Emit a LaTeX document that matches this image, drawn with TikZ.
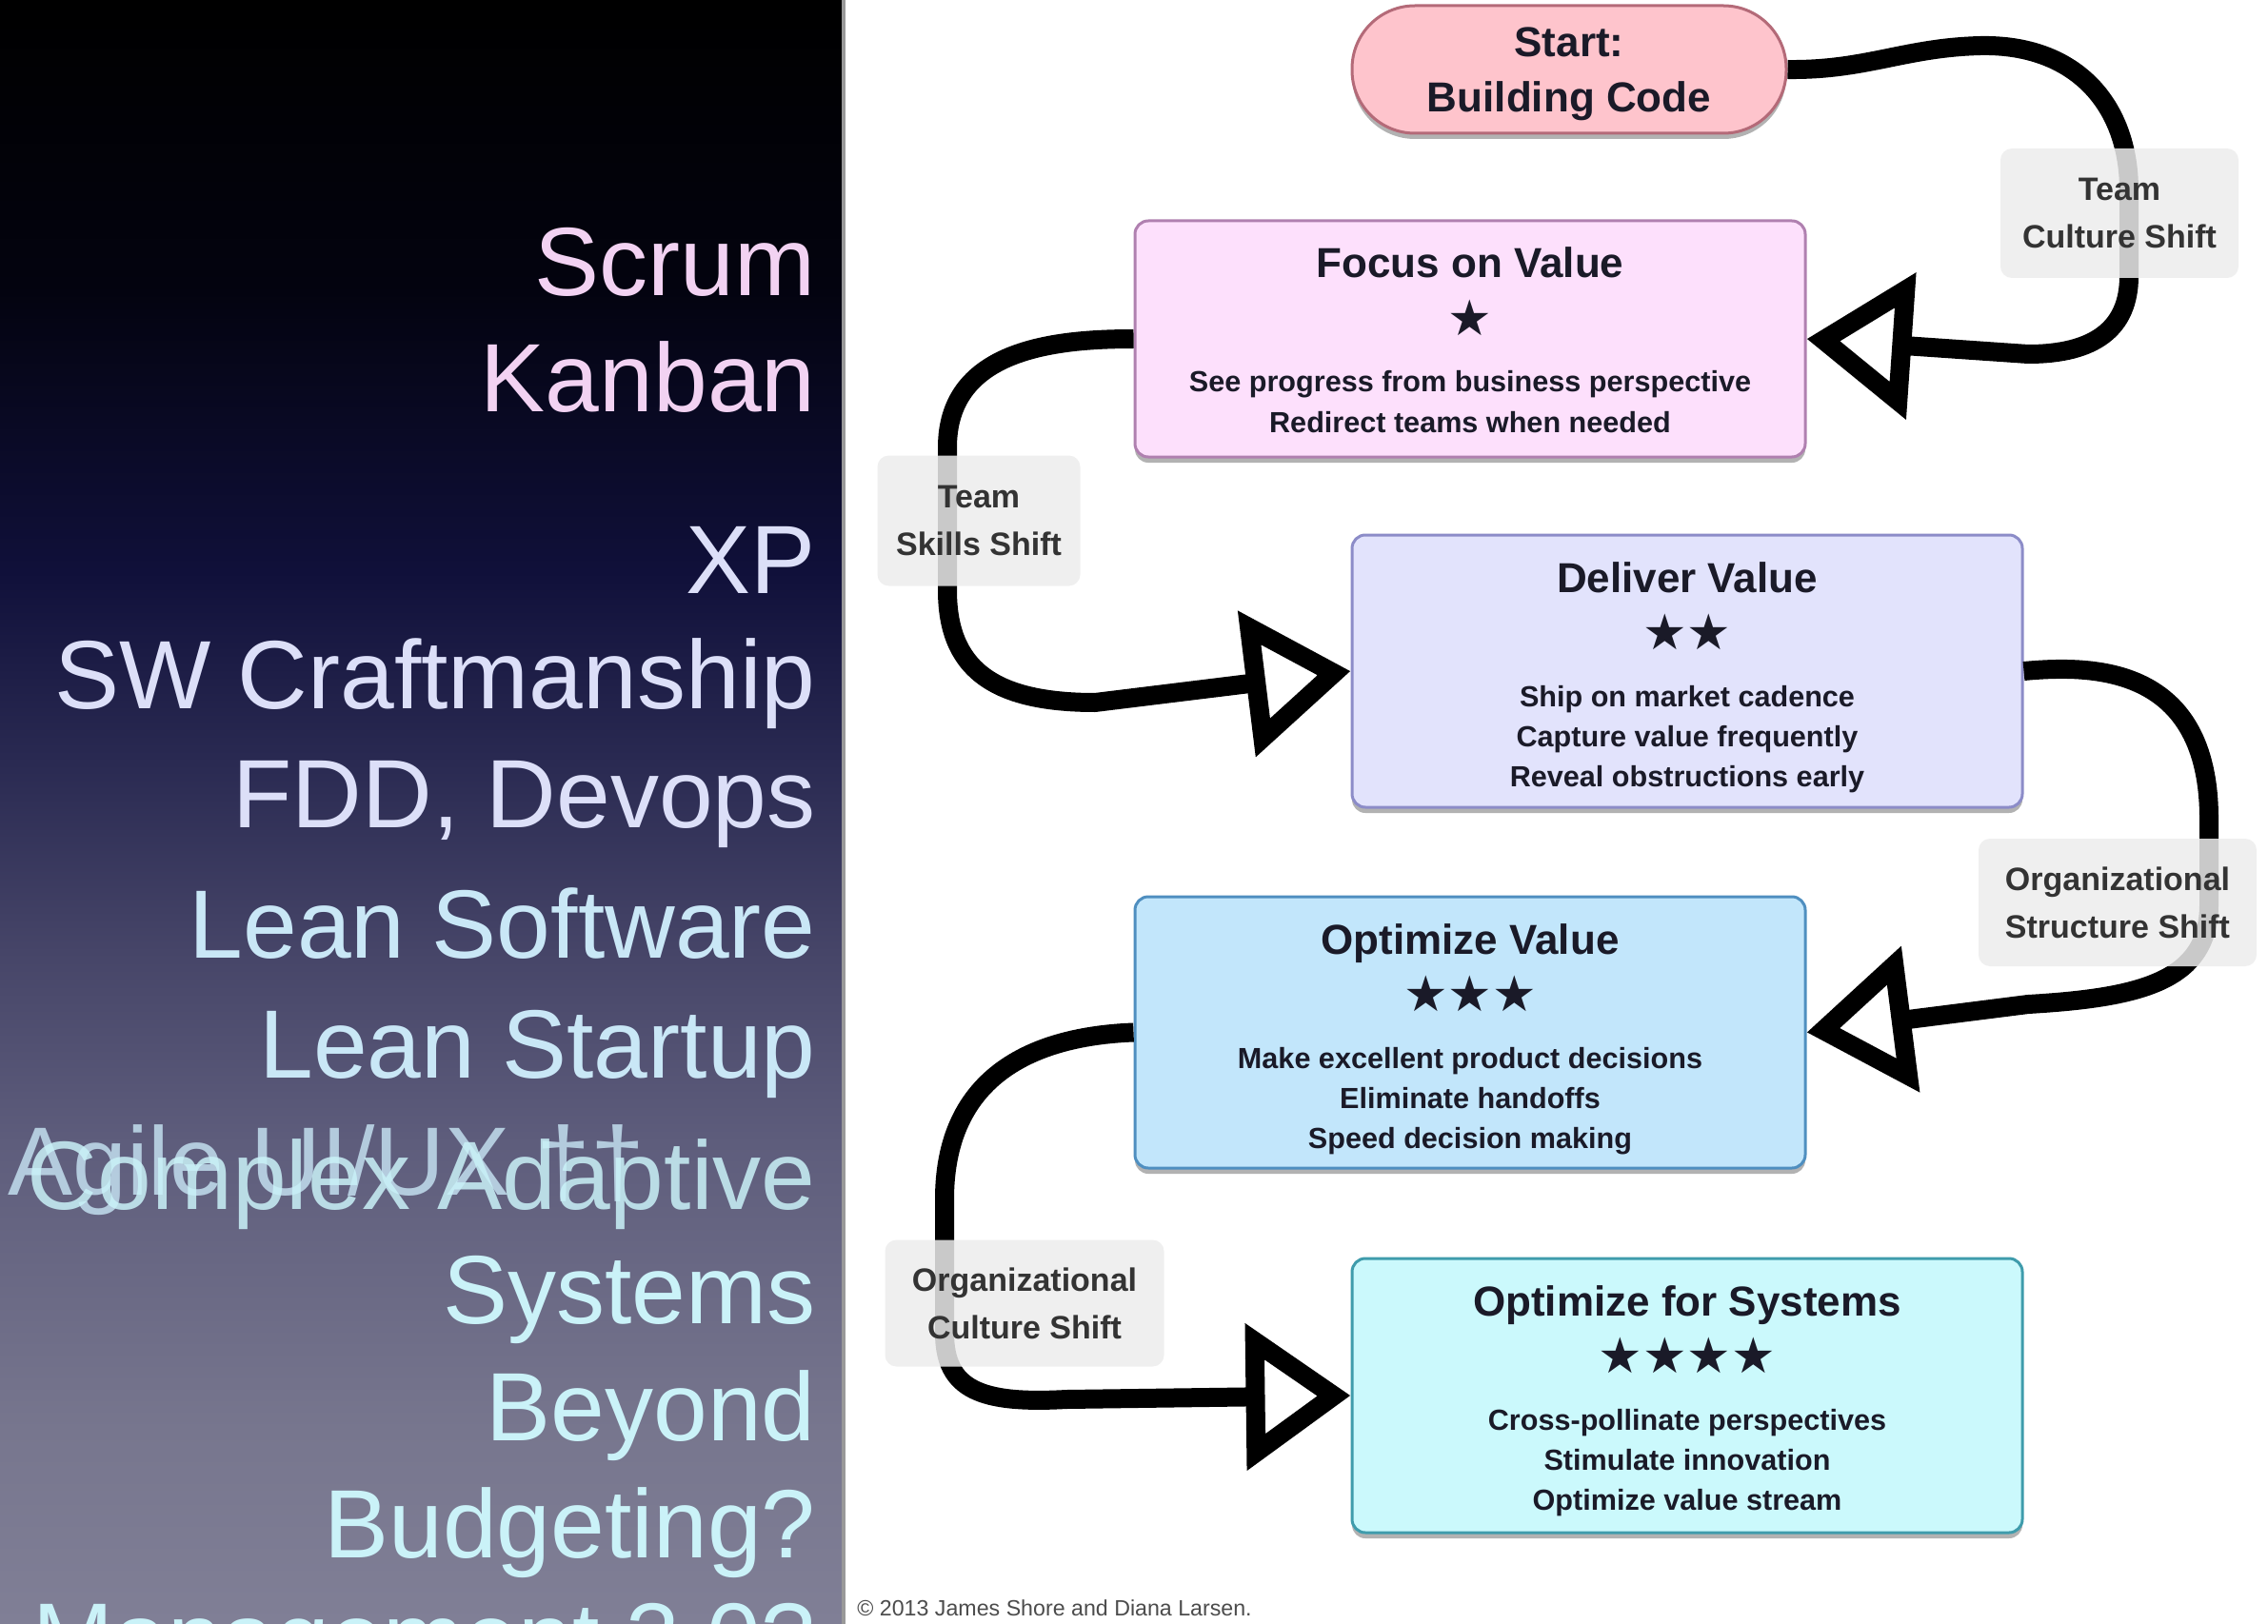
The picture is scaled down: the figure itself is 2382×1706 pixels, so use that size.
\documentclass[tikz,border=0pt]{standalone}
\usepackage{fontspec}
\setmainfont{Liberation Sans}
\newfontfamily\starfont{DejaVu Sans}
\usetikzlibrary{arrows.meta,shadows}

\definecolor{ptop}{HTML}{000000}
\definecolor{pa}{HTML}{03030F}
\definecolor{pb}{HTML}{10103A}
\definecolor{pc}{HTML}{2A2A52}
\definecolor{pd}{HTML}{464568}
\definecolor{pe}{HTML}{5E5D7C}
\definecolor{pf}{HTML}{77768E}
\definecolor{pbot}{HTML}{807F96}
\pgfdeclareverticalshading{leftpanel}{100bp}{color(0bp)=(pbot); color(25bp)=(pbot); color(31bp)=(pf); color(39.8bp)=(pe); color(45.7bp)=(pd); color(51.5bp)=(pc); color(57.4bp)=(pb); color(66.2bp)=(pa); color(75bp)=(ptop); color(100bp)=(ptop)}

\definecolor{ink}{HTML}{1A1A28}
\definecolor{cOne}{HTML}{F2D2F2}
\definecolor{cTwo}{HTML}{DCDFF8}
\definecolor{cThree}{HTML}{C9E7F6}
\definecolor{cFour}{HTML}{CAF2F8}
\definecolor{startfill}{HTML}{FEC4CC}
\definecolor{startdraw}{HTML}{B46A78}
\definecolor{focusfill}{HTML}{FDE0FC}
\definecolor{focusdraw}{HTML}{B080B0}
\definecolor{delivfill}{HTML}{E2E3FC}
\definecolor{delivdraw}{HTML}{8C8CC8}
\definecolor{optvfill}{HTML}{C2E6FB}
\definecolor{optvdraw}{HTML}{4F8FC0}
\definecolor{optsfill}{HTML}{CBF9FC}
\definecolor{optsdraw}{HTML}{3F9CAC}

\tikzset{
  lefttxt/.style={anchor=base east, inner sep=0pt, font=\fontsize{51}{60}\selectfont},
  stage/.style={draw, rounded corners=7pt, line width=1.5pt, minimum width=352pt,
    drop shadow={shadow xshift=0pt, shadow yshift=-3pt, opacity=0.3, fill=black}},
  ttl/.style={anchor=base, inner sep=0pt, font=\fontsize{22}{26}\selectfont\bfseries, text=ink},
  stars/.style={anchor=center, inner sep=0pt, font=\starfont\fontsize{26}{30}\selectfont, text=ink},
  body/.style={anchor=base, inner sep=0pt, font=\fontsize{15.3}{18}\selectfont\bfseries, text=ink},
  shiftlbl/.style={rounded corners=6pt, fill=black!7, fill opacity=0.85, text opacity=1,
    align=center, inner sep=0pt, font=\fontsize{17}{25}\selectfont\bfseries, text=black!80},
  flow/.style={line width=10pt, line join=round, -{Triangle[open, length=55pt, width=75pt]}},
}

\begin{document}
\begin{tikzpicture}[x=0.5pt,y=-0.5pt]
\clip (0,0) rectangle (2382,1706);
\fill[white] (0,0) rectangle (2382,1706);
\shade[shading=leftpanel] (0,0) rectangle (884,1706);
\draw[line width=2pt, black!40] (886,0) -- (886,1706);

% left list
\node[lefttxt, text=cOne] (tScrum) at (857,311) {Scrum};
\node[lefttxt, text=cOne] (tKanban) at (857,433) {Kanban};
\node[lefttxt, text=cTwo] (tXP) at (857,623) {XP};
\node[lefttxt, text=cTwo] (tSW) at (857,744) {SW Craftmanship};
\node[lefttxt, text=cTwo] (tFDD) at (857,869) {FDD, Devops};
\node[lefttxt, text=cThree] (tLeanSw) at (857,1006) {Lean Software};
\node[lefttxt, text=cThree] (tLeanSt) at (857,1132) {Lean Startup};
\node[anchor=base west, inner sep=0pt, font=\fontsize{51}{60}\selectfont, text=cThree, opacity=0.8] (tAgile) at (8,1255) {Agile UI/UX ††};
\node[lefttxt, text=cFour, opacity=0.85] (tComplex) at (857,1270) {Complex Adaptive};
\node[lefttxt, text=cFour] (tSystems) at (857,1390) {Systems};
\node[lefttxt, text=cFour] (tBeyond) at (857,1513) {Beyond};
\node[lefttxt, text=cFour] (tBudget) at (857,1636) {Budgeting?};
\node[lefttxt, text=cFour] (tMgmt) at (857,1755) {Management 3.0?};

% boxes
\node[stage, fill=startfill, draw=startdraw, minimum width=228pt, minimum height=67pt, rounded corners=33pt] (start) at (1648,73) {};
\node[ttl] (startA) at (1648,60) {Start:};
\node[ttl] (startB) at (1648,118) {Building Code};

\node[stage, fill=focusfill, draw=focusdraw, minimum height=124pt] (focus) at (1544,356) {};
\node[ttl] (focusT) at (1544,292) {Focus on Value};
\node[stars] (focusS) at (1544,334) {★};
\node[body] (focusB1) at (1544,412) {See progress from business perspective};
\node[body] (focusB2) at (1544,454) {Redirect teams when needed};

\node[stage, fill=delivfill, draw=delivdraw, minimum height=143pt] (deliver) at (1772,705) {};
\node[ttl] (delivT) at (1772,622) {Deliver Value};
\node[stars] (delivS) at (1772,664) {★★};
\node[body] (delivB1) at (1772,742) {Ship on market cadence};
\node[body] (delivB2) at (1772,784) {Capture value frequently};
\node[body] (delivB3) at (1772,826) {Reveal obstructions early};

\node[stage, fill=optvfill, draw=optvdraw, minimum height=142.5pt] (optval) at (1544,1084.5) {};
\node[ttl] (optvT) at (1544,1002) {Optimize Value};
\node[stars] (optvS) at (1544,1044) {★★★};
\node[body] (optvB1) at (1544,1122) {Make excellent product decisions};
\node[body] (optvB2) at (1544,1164) {Eliminate handoffs};
\node[body] (optvB3) at (1544,1206) {Speed decision making};

\node[stage, fill=optsfill, draw=optsdraw, minimum height=144pt] (optsys) at (1772,1466) {};
\node[ttl] (optsT) at (1772,1382) {Optimize for Systems};
\node[stars] (optsS) at (1772,1424) {★★★★};
\node[body] (optsB1) at (1772,1502) {Cross-pollinate perspectives};
\node[body] (optsB2) at (1772,1544) {Stimulate innovation};
\node[body] (optsB3) at (1772,1586) {Optimize value stream};

% connectors
\draw[flow] (start.east) .. controls (1960,74) and (2000,50) .. (2080,48)
  .. controls (2180,46) and (2236,110) .. (2236,200) -- (2236,290)
  .. controls (2236,345) and (2200,372) .. (2130,372) -- (focus.east);
\draw[flow] (focus.west) .. controls (1100,356) and (995,370) .. (995,470) -- (995,620)
  .. controls (995,700) and (1040,738) .. (1150,738) -- (deliver.west);
\draw[flow] (deliver.east) .. controls (2200,698) and (2320,700) .. (2320,860) -- (2320,950)
  .. controls (2320,1030) and (2250,1048) .. (2130,1055) -- (optval.east);
\draw[flow] (optval.west) .. controls (1100,1088) and (992,1120) .. (992,1260) -- (992,1400)
  .. controls (992,1460) and (1030,1475) .. (1120,1470) -- (optsys.west);

% shift labels
\node[shiftlbl, minimum width=125pt, minimum height=68pt] (lblTCS) at (2226,224) {Team\\Culture Shift};
\node[shiftlbl, minimum width=106.5pt, minimum height=68.5pt] (lblTSS) at (1028,547) {Team\\Skills Shift};
\node[shiftlbl, minimum width=146pt, minimum height=67pt] (lblOSS) at (2224,948) {Organizational\\Structure Shift};
\node[shiftlbl, minimum width=146.5pt, minimum height=66.5pt] (lblOCS) at (1076,1369) {Organizational\\Culture Shift};

\node[anchor=base west, inner sep=0pt, font=\fontsize{11.6}{14}\selectfont, text=black!70] (copy) at (900,1697) {© 2013 James Shore and Diana Larsen.};
\end{tikzpicture}
\end{document}
